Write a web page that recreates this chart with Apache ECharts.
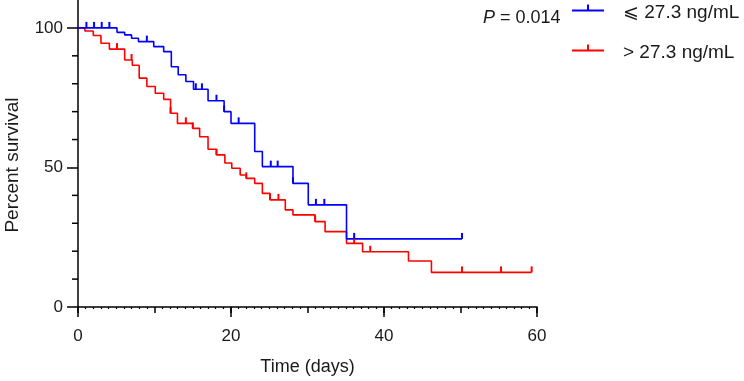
<!DOCTYPE html>
<html>
<head>
<meta charset="utf-8">
<script src="https://cdn.jsdelivr.net/npm/echarts@6/dist/echarts.min.js"></script>
<style>
  html, body { margin: 0; padding: 0; background: #fff; }
  #chart { width: 744px; height: 381px; }
</style>
</head>
<body>
<div id="chart"></div>
<script>
// survival steps, low group (<= 27.3 ng/mL)
const lowDays = [0, 5.1, 6.1, 7, 7.9, 9.9, 11.2, 12.2, 13.1, 14.1, 15.1, 17, 19.1, 20, 23.1, 24.1, 28.1, 30.1, 35.1, 50.2];
const lowSurv = [100, 98.4, 97.5, 96.3, 95.1, 93.3, 91.5, 86.1, 83.2, 80.8, 78, 73.9, 70, 65.8, 55.7, 50.3, 44.3, 36.6, 24.4, 24.4];
const lowCensorDays = [1.1, 2.1, 3.1, 4.1, 9, 15.4, 16.2, 18.1, 19.1, 21, 25.2, 26.1, 28.1, 31.1, 32.2, 36.1, 50.2];
const lowCensorSurv = [100, 100, 100, 100, 95.1, 78, 78, 73.9, 70, 65.8, 50.3, 50.3, 44.3, 36.6, 36.6, 24.4, 24.4];

// survival steps, high group (> 27.3 ng/mL)
const highDays = [0, 0.9, 2, 3, 4.1, 6.1, 7.1, 8, 9, 10.1, 11.2, 12.1, 13, 15, 15.9, 17, 18.1, 19.2, 20.1, 21.2, 22, 23.1, 24.1, 25.1, 27.1, 28.1, 31, 32.3, 35.1, 37.2, 43.2, 46.2, 59.3];
const highSurv = [100, 98.9, 97.3, 94.5, 92.4, 88.5, 86.6, 82, 79, 76.6, 74.4, 69.4, 65.8, 64, 61, 56.5, 54.5, 51.6, 49.7, 47.3, 46.1, 44.3, 40.7, 38.4, 34.8, 33, 30.6, 27, 22.8, 19.8, 16.5, 12.4, 12.4];
const highCensorDays = [5.1, 7, 12.1, 14.1, 15, 18.1, 22, 25.1, 26.2, 31, 36.1, 38.2, 50.2, 55.3, 59.3];
const highCensorSurv = [92.4, 88.5, 69.4, 65.8, 64, 54.5, 46.1, 38.4, 38.4, 30.6, 22.8, 19.8, 12.4, 12.4, 12.4];

const groupNames = ['⩽ 27.3 ng/mL', '> 27.3 ng/mL'];
const groupColors = ['#0000ff', '#ff0000'];
const xLabels = [0, 20, 40, 60];
const yLabels = [0, 50, 100];
const yMinorTicks = [10, 20, 30, 40, 60, 70, 80, 90];

const zip = (a, b) => a.map((v, i) => [v, b[i]]);

const font = 'Liberation Sans, Arial, sans-serif';
const legendIcon = 'path://M0,5 H32 V7 H0 Z M15,0 H17 V5 H15 Z M0,16 L0.01,16 L0,15.99 Z';

function censorSeries(data, color) {
  return {
    type: 'custom',
    data: data,
    z: 3,
    silent: true,
    renderItem: function(params, api) {
      const p = api.coord([api.value(0), api.value(1)]);
      return {
        type: 'line',
        shape: { x1: p[0], y1: p[1], x2: p[0], y2: p[1] - 6 },
        style: { stroke: color, lineWidth: 2 }
      };
    }
  };
}

// extra axis ticks of a different length, placed through the axis scales
function tickSeries(values, dir, len) {
  return {
    type: 'custom',
    data: values.map(v => (dir === 'x' ? [v, 0] : [0, v])),
    z: 4,
    silent: true,
    clip: false,
    renderItem: function(params, api) {
      const p = api.coord([api.value(0), api.value(1)]);
      const shape = dir === 'x'
        ? { x1: p[0], y1: p[1], x2: p[0], y2: p[1] + len }
        : { x1: p[0], y1: p[1], x2: p[0] - len, y2: p[1] };
      return { type: 'line', shape: shape, style: { stroke: '#000', lineWidth: 1.5 } };
    }
  };
}

function stepSeries(name, data, color) {
  return {
    type: 'line',
    name: name,
    step: 'end',
    showSymbol: false,
    data: data,
    color: color,
    lineStyle: { width: 1.6, color: color },
    z: 2
  };
}

const chart = echarts.init(document.getElementById('chart'));

const option = {
  animation: false,
  backgroundColor: '#fff',
  textStyle: { fontFamily: font, color: '#1a1a1a' },
  grid: { left: 78, right: 207, top: 0, bottom: 74 },
  title: {
    left: 478,
    top: 4,
    text: '{i|P} = 0.014',
    textStyle: {
      fontFamily: font,
      fontSize: 18,
      fontWeight: 'normal',
      color: '#1a1a1a',
      rich: { i: { fontStyle: 'italic', fontFamily: font, fontSize: 18, color: '#1a1a1a' } }
    }
  },
  legend: {
    orient: 'vertical',
    left: 569,
    top: 0,
    padding: 3,
    itemWidth: 32,
    itemHeight: 16,
    itemGap: 21,
    textStyle: { fontFamily: font, fontSize: 19, color: '#1a1a1a', padding: [0, 0, 0, 14] },
    data: [
      { name: groupNames[0], icon: legendIcon },
      { name: groupNames[1], icon: legendIcon }
    ]
  },
  graphic: [
    {
      type: 'text',
      x: 13,
      y: 165,
      rotation: Math.PI / 2,
      style: {
        text: 'Percent survival',
        fontFamily: font,
        fontSize: 19,
        fill: '#1a1a1a',
        align: 'center',
        verticalAlign: 'middle'
      }
    }
  ],
  xAxis: {
    type: 'value',
    min: 0,
    max: 60,
    interval: 10,
    name: 'Time (days)',
    nameLocation: 'middle',
    nameGap: 51,
    nameTextStyle: { fontFamily: font, fontSize: 18, color: '#1a1a1a' },
    axisLine: { lineStyle: { color: '#000', width: 1.5 } },
    axisTick: { length: 6, lineStyle: { color: '#000', width: 1.5 } },
    minorTick: { show: true, splitNumber: 10, length: 2, lineStyle: { color: '#000', width: 1.2 } },
    axisLabel: { customValues: xLabels, fontSize: 17, color: '#1a1a1a', margin: 21 },
    splitLine: { show: false }
  },
  yAxis: {
    type: 'value',
    min: 0,
    max: 110,
    axisLine: { show: true, lineStyle: { color: '#000', width: 1.5 } },
    axisTick: { customValues: yLabels, length: 11, lineStyle: { color: '#000', width: 1.5 } },
    axisLabel: { customValues: yLabels, fontSize: 17, color: '#1a1a1a', margin: 15 },
    splitLine: { show: false }
  },
  series: [
    stepSeries(groupNames[1], zip(highDays, highSurv), groupColors[1]),
    stepSeries(groupNames[0], zip(lowDays, lowSurv), groupColors[0]),
    censorSeries(zip(highCensorDays, highCensorSurv), groupColors[1]),
    censorSeries(zip(lowCensorDays, lowCensorSurv), groupColors[0]),
    tickSeries(xLabels, 'x', 10),
    tickSeries(yMinorTicks, 'y', 6)
  ]
};

chart.setOption(option);
</script>
</body>
</html>
